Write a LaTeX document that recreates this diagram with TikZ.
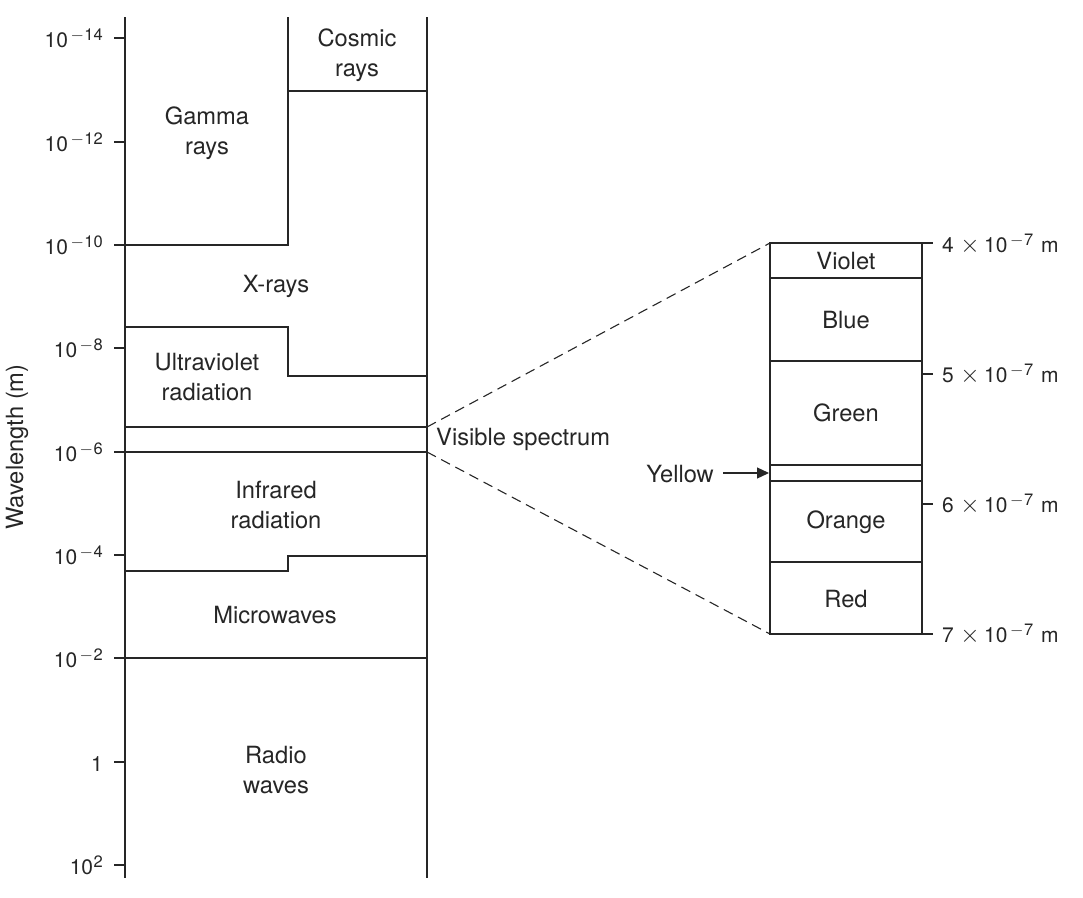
\documentclass[tikz,border=0pt]{standalone}
\usepackage{fontspec}
\setmainfont{TeX Gyre Heros}
\usetikzlibrary{arrows.meta}
\newcommand{\mysups}[1]{\raisebox{6.5pt}{\fontsize{16.5}{16.5}\selectfont\kern2.5pt$-$\kern0.5pt#1}}
\newcommand{\mysupp}[1]{\raisebox{6.5pt}{\fontsize{16.5}{16.5}\selectfont\kern0.5pt#1}}
\newcommand{\mytimes}{\kern6.5pt{\fontsize{30}{30}\selectfont$\times$}\kern4.5pt}
\begin{document}
\begin{tikzpicture}[x=1pt,y=-1pt,
  ln/.style={line width=1.2pt, draw=black!85},
  dsh/.style={line width=1.1pt, draw=black!85, dash pattern=on 10pt off 6pt},
  lbl/.style={font=\fontsize{23.7}{29.5}\selectfont, align=center, inner sep=0pt, text=black!85},
  tlbl/.style={font=\fontsize{21}{24}\selectfont, anchor=base east, inner sep=0pt, text=black!85},
  rlbl/.style={font=\fontsize{21}{24}\selectfont, anchor=base west, inner sep=0pt, text=black!85},
]
\useasboundingbox (0,0) rectangle (1083,897);

% left column outline
\draw[ln] (125,17) -- (125,878);
\draw[ln] (427,17) -- (427,878);

% tick marks
\foreach \y in {38,142,245,348,452,555,658,762,865}{
  \draw[ln] (114,\y) -- (125,\y);
}

% tick labels
\node[tlbl] (t1) at (103,47) {10\mysups{14}};
\node[tlbl] (t2) at (103,151) {10\mysups{12}};
\node[tlbl] (t3) at (103,254) {10\mysups{10}};
\node[tlbl] (t4) at (103,357) {10\mysups{8}};
\node[tlbl] (t5) at (103,461) {10\mysups{6}};
\node[tlbl] (t6) at (103,564) {10\mysups{4}};
\node[tlbl] (t7) at (103,667) {10\mysups{2}};
\node[tlbl] (t8) at (103,771) {1};
\node[tlbl] (t9) at (103,874) {10\mysupp{2}};

% band boundaries
\draw[ln] (288,17) -- (288,245) -- (125,245);
\draw[ln] (288,91) -- (427,91);
\draw[ln] (125,327) -- (288,327) -- (288,376) -- (427,376);
\draw[ln] (125,427) -- (427,427);
\draw[ln] (125,452) -- (427,452);
\draw[ln] (125,571) -- (288,571) -- (288,556) -- (427,556);
\draw[ln] (125,658) -- (427,658);

% band labels
\node[lbl] (cosmic) at (357,55) {Cosmic\\rays};
\node[lbl] (gamma) at (207,133) {Gamma\\rays};
\node[lbl] (xray) at (276,286) {X-rays};
\node[lbl] (uv) at (207,377) {Ultraviolet\\radiation};
\node[lbl, anchor=west] (vis) at (436,439) {Visible spectrum};
\node[lbl] (ir) at (276,505) {Infrared\\radiation};
\node[lbl] (micro) at (275,615) {Microwaves};
\node[lbl] (radio) at (276,770) {Radio\\waves};

\node[lbl, rotate=90] (axis) at (17,447) {Wavelength (m)};

% visible spectrum box
\coordinate (vtop) at (427,427);
\coordinate (vbot) at (427,452);
\coordinate (btop) at (770,243);
\coordinate (bbot) at (770,634);
\draw[ln] (770,243) rectangle (922,634);
\draw[ln] (770,278) -- (922,278);
\draw[ln] (770,361) -- (922,361);
\draw[ln] (770,465) -- (922,465);
\draw[ln] (770,481) -- (922,481);
\draw[ln] (770,562) -- (922,562);
\foreach \y in {243,374,504,634}{
  \draw[ln] (922,\y) -- (933,\y);
}
\draw[dsh] (vtop) -- (btop);
\draw[dsh] (vbot) -- (bbot);

\node[lbl] (violet) at (846,261) {Violet};
\node[lbl] (blue) at (846,320) {Blue};
\node[lbl] (green) at (846,413) {Green};
\node[lbl] (orange) at (846,522) {Orange};
\node[lbl] (red) at (846,599) {Red};

\node[rlbl] (r1) at (942,252) {4\mytimes 10\mysups{7}\kern8pt m};
\node[rlbl] (r2) at (942,382) {5\mytimes 10\mysups{7}\kern8pt m};
\node[rlbl] (r3) at (942,512) {6\mytimes 10\mysups{7}\kern8pt m};
\node[rlbl] (r4) at (942,642) {7\mytimes 10\mysups{7}\kern8pt m};

% yellow pointer
\node[lbl, anchor=east] (yellow) at (714,474) {Yellow};
\coordinate (ytip) at (769,473);
\draw[ln, -{Triangle[length=12pt,width=11pt]}] (723,473) -- (ytip);
\end{tikzpicture}
\end{document}
